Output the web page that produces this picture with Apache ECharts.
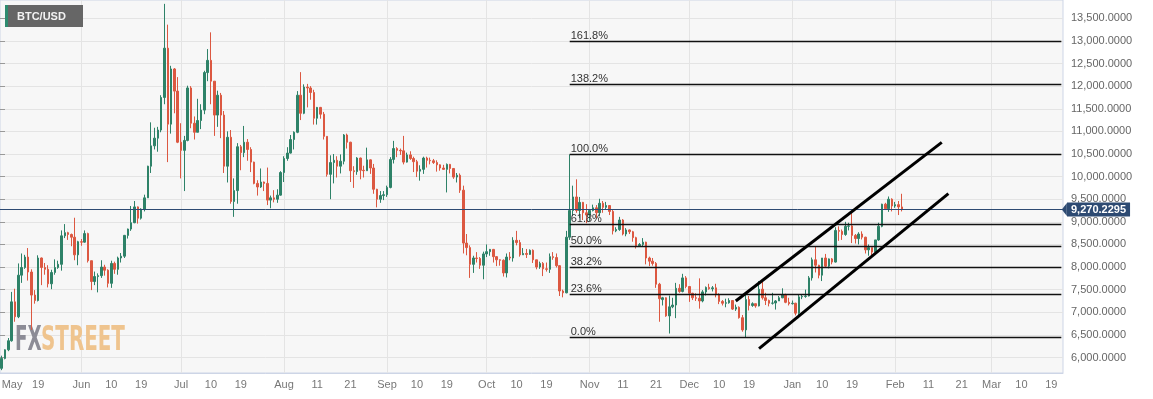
<!DOCTYPE html>
<html>
<head>
<meta charset="utf-8" />
<title>BTC/USD</title>
<script src="https://cdn.jsdelivr.net/npm/echarts@6/dist/echarts.min.js"></script>
<style type="text/css">
html, body { margin: 0; padding: 0; background: #fff; }
#main { width: 1153px; height: 399px; }
</style>
</head>
<body>
<div id="main"></div>
<script type="text/javascript">
// one category per calendar day, first day and how many days the axis holds
var startDay = [2019, 4, 8];
var dayCount = 320;

// daily candles from 2019-05-08, [open, close, low, high]
var ohlc = [
	// May
	[5760, 5980, 5720, 6040], [5980, 6170, 5960, 6180], [6170, 6370, 6140, 6430], [6370, 7230, 6350, 7450],
	[7230, 6900, 6790, 7520], [6900, 7820, 6870, 8080], [7820, 7990, 7650, 8300], [7990, 8220, 7960, 8270],
	[8220, 7890, 7700, 8420], [7890, 7380, 6610, 7950], [7380, 7260, 7190, 7490], [7260, 8200, 7240, 8260],
	[8200, 7990, 7600, 8210], [7990, 7950, 7830, 8090], [7950, 7630, 7550, 8040], [7630, 7880, 7510, 7940],
	[7880, 7990, 7830, 8170], [7990, 8060, 7960, 8140], [8060, 8690, 7920, 8810], [8690, 8760, 8640, 8950],
	[8760, 8720, 8600, 8780], [8720, 8660, 8460, 8740], [8660, 8270, 8150, 9090], [8270, 8560, 8040, 8580],
	// Jun
	[8560, 8550, 8470, 8620], [8550, 8740, 8540, 8810], [8740, 8140, 8100, 8760], [8140, 7680, 7490, 8140],
	[7680, 7790, 7600, 7900], [7790, 7810, 7440, 7860], [7810, 8000, 7760, 8150], [8000, 7930, 7810, 8050],
	[7930, 7640, 7550, 7950], [7640, 8080, 7540, 8140], [8080, 7950, 7850, 8120], [7950, 8200, 7830, 8230],
	[8200, 8240, 8100, 8310], [8240, 8700, 8200, 8710], [8700, 8840, 8630, 8850], [8840, 8980, 8800, 9350],
	[8980, 9330, 8970, 9460], [9330, 9080, 8960, 9340], [9080, 9280, 9050, 9300], [9280, 9530, 9230, 9600],
	[9530, 10230, 9530, 10240], [10230, 10680, 10080, 11200], [10680, 10850, 10600, 11080], [10850, 11030, 10550, 11100],
	[11030, 11750, 10980, 11800], [11750, 12840, 11600, 13820], [12840, 11160, 10320, 13360], [11160, 12380, 10950, 12450],
	[12380, 11890, 11400, 12400], [11890, 10760, 10740, 12200],
	// Jul
	[10760, 10580, 9960, 11180], [10580, 10800, 9680, 10900], [10800, 11960, 10780, 12010], [11960, 11180, 11070, 12000],
	[11180, 10980, 10820, 11330], [10980, 11240, 10980, 11720], [11240, 11470, 11050, 11600], [11470, 12300, 11380, 12340],
	[12300, 12570, 12110, 12820], [12570, 12110, 11600, 13190], [12110, 11360, 10900, 12110], [11360, 11800, 11100, 11900],
	[11800, 11360, 10850, 11850], [11360, 10230, 10080, 11450], [10230, 10870, 9870, 11000], [10870, 9450, 9400, 11030],
	[9450, 9690, 9110, 9960], [9690, 10660, 9400, 10740], [10660, 10530, 10140, 10700], [10530, 10760, 10430, 11120],
	[10760, 10600, 10350, 10830], [10600, 10320, 10100, 10650], [10320, 9850, 9830, 10330], [9850, 9770, 9580, 9920],
	[9770, 9880, 9750, 10180], [9880, 9850, 9680, 9890], [9850, 9480, 9370, 10200], [9480, 9530, 9300, 9580],
	[9530, 9500, 9430, 9700], [9500, 9590, 9420, 9720], [9590, 10090, 9580, 10120],
	// Aug
	[10090, 10400, 9880, 10450], [10400, 10520, 10350, 10650], [10520, 10820, 10510, 10920], [10820, 10980, 10600, 11000],
	[10980, 11800, 10960, 11890], [11800, 11400, 11250, 12310], [11400, 11980, 11380, 12040], [11980, 11960, 11530, 12050],
	[11960, 11860, 11700, 12000], [11860, 11290, 11150, 11920], [11290, 11530, 11150, 11540], [11530, 11380, 11280, 11540],
	[11380, 10890, 10820, 11430], [10890, 10050, 10000, 10890], [10050, 10310, 9500, 10470], [10310, 10360, 9850, 10500],
	[10360, 10230, 9980, 10450], [10230, 10340, 10070, 10490], [10340, 10920, 10270, 10940], [10920, 10760, 10620, 10950],
	[10760, 10130, 9880, 10770], [10130, 10110, 9750, 10230], [10110, 10410, 10040, 10430], [10410, 10140, 9940, 10420],
	[10140, 10130, 9980, 10240], [10130, 10370, 10130, 10640], [10370, 10190, 10060, 10380], [10190, 9720, 9620, 10280],
	[9720, 9500, 9320, 9730], [9500, 9580, 9420, 9680], [9580, 9600, 9480, 9680],
	// Sep
	[9600, 9760, 9550, 9800], [9760, 10380, 9740, 10430], [10380, 10620, 10290, 10790], [10620, 10580, 10430, 10650],
	[10580, 10570, 10480, 10620], [10570, 10320, 10270, 10900], [10320, 10480, 10310, 10530], [10480, 10400, 10370, 10560],
	[10400, 10330, 10100, 10440], [10330, 10120, 9990, 10370], [10120, 10160, 9910, 10250], [10160, 10410, 10060, 10440],
	[10410, 10360, 10200, 10440], [10360, 10350, 10270, 10420], [10350, 10310, 10280, 10390], [10310, 10260, 10110, 10360],
	[10260, 10190, 10130, 10270], [10190, 10160, 10150, 10260], [10160, 10270, 9650, 10290], [10270, 10180, 10070, 10280],
	[10180, 9990, 9950, 10190], [9990, 10030, 9870, 10080], [10030, 9700, 9640, 10070], [9700, 8530, 8300, 9800],
	[8530, 8430, 8260, 8730], [8430, 8060, 7760, 8480], [8060, 8200, 7870, 8250], [8200, 8190, 8100, 8330],
	[8190, 8040, 7960, 8220], [8040, 8290, 7730, 8340],
	// Oct
	[8290, 8340, 8220, 8500], [8340, 8390, 8250, 8400], [8390, 8230, 8100, 8400], [8230, 8160, 8020, 8240],
	[8160, 8150, 8030, 8170], [8150, 7870, 7790, 8170], [7870, 8220, 7770, 8300], [8220, 8200, 8150, 8330],
	[8200, 8590, 8120, 8660], [8590, 8540, 8480, 8800], [8540, 8270, 8230, 8600], [8270, 8300, 8270, 8420],
	[8300, 8280, 8200, 8400], [8280, 8370, 8270, 8390], [8370, 8160, 8090, 8390], [8160, 8000, 7950, 8160],
	[8000, 8080, 7960, 8120], [8080, 7960, 7800, 8110], [7960, 7950, 7900, 8100], [7950, 8230, 7870, 8300],
	[8230, 8210, 8160, 8330], [8210, 8030, 7990, 8300], [8030, 7470, 7360, 8040], [7470, 7430, 7330, 7500],
	[7430, 8660, 7420, 8800], [8660, 9250, 8600, 10490], [9250, 9550, 9130, 9800], [9550, 9250, 9200, 9940],
	[9250, 9430, 9080, 9550], [9430, 9200, 9040, 9440], [9200, 9150, 8970, 9390],
	// Nov
	[9150, 9250, 9020, 9280], [9250, 9310, 9230, 9380], [9310, 9200, 9080, 9370], [9200, 9410, 9120, 9510],
	[9410, 9320, 9200, 9460], [9320, 9360, 9280, 9440], [9360, 9230, 9150, 9370], [9230, 8800, 8720, 9260],
	[8800, 8830, 8770, 8880], [8830, 9040, 8800, 9110], [9040, 8730, 8700, 9060], [8730, 8820, 8680, 8860],
	[8820, 8780, 8730, 8830], [8780, 8650, 8560, 8800], [8650, 8470, 8410, 8670], [8470, 8500, 8450, 8530],
	[8500, 8550, 8450, 8640], [8550, 8200, 8060, 8560], [8200, 8130, 8020, 8230], [8130, 8080, 8030, 8200],
	[8080, 7620, 7540, 8110], [7620, 7300, 6790, 7650], [7280, 7320, 7150, 7340], [7320, 6920, 6900, 7330],
	[6920, 7120, 6530, 7370], [7120, 7160, 7090, 7320], [7160, 7530, 6870, 7650], [7530, 7460, 7430, 7620],
	[7460, 7760, 7440, 7850], [7760, 7570, 7530, 7800],
	// Dec
	[7570, 7420, 7230, 7570], [7420, 7320, 7270, 7430], [7320, 7310, 7250, 7420], [7310, 7250, 7080, 7750],
	[7250, 7450, 7220, 7490], [7450, 7550, 7370, 7570], [7550, 7520, 7500, 7630], [7520, 7540, 7460, 7580],
	[7540, 7390, 7330, 7630], [7390, 7240, 7180, 7420], [7240, 7200, 7150, 7270], [7200, 7210, 7110, 7300],
	[7210, 7260, 7190, 7310], [7260, 7070, 7050, 7270], [7070, 7110, 7030, 7170], [7110, 6880, 6860, 7130],
	[6880, 6610, 6570, 6940], [6610, 7280, 6440, 7420], [7280, 7150, 7040, 7360], [7150, 7190, 7120, 7220],
	[7190, 7140, 7100, 7190], [7140, 7510, 7130, 7690], [7510, 7320, 7280, 7690], [7320, 7260, 7160, 7430],
	[7260, 7200, 7130, 7280], [7200, 7205, 7170, 7430], [7205, 7250, 7060, 7270], [7250, 7320, 7250, 7360],
	[7320, 7390, 7310, 7530], [7390, 7220, 7200, 7410], [7220, 7190, 7150, 7320],
	// Jan
	[7190, 7200, 7170, 7260], [7200, 6980, 6930, 7210], [6980, 7340, 6870, 7400], [7340, 7350, 7290, 7400],
	[7350, 7360, 7320, 7500], [7360, 7760, 7350, 7800], [7760, 8160, 7700, 8210], [8160, 8040, 7880, 8460],
	[8040, 7820, 7750, 8050], [7820, 8200, 7690, 8200], [8200, 8020, 7990, 8290], [8020, 8180, 7970, 8190],
	[8180, 8110, 8060, 8200], [8110, 8810, 8100, 8880], [8810, 8790, 8580, 8900], [8790, 8720, 8600, 8830],
	[8720, 8900, 8690, 9000], [8900, 8910, 8810, 8980], [8910, 8700, 8530, 9190], [8700, 8630, 8520, 8730],
	[8630, 8730, 8500, 8770], [8730, 8660, 8610, 8790], [8660, 8380, 8300, 8670], [8380, 8430, 8250, 8500],
	[8430, 8330, 8260, 8430], [8330, 8600, 8300, 8600], [8600, 8900, 8580, 8980], [8900, 9390, 8880, 9400],
	[9390, 9290, 9260, 9420], [9290, 9500, 9220, 9560], [9500, 9350, 9230, 9520],
	// Feb
	[9350, 9380, 9310, 9440], [9380, 9330, 9150, 9460], [9330, 9270.2295, 9230, 9620]
];

var lastPrice = 9270.2295;

// labelled days on the time axis
var tickLabels = [
	['2019-05-08', 'May'], ['2019-05-19', '19'],
	['2019-06-01', 'Jun'], ['2019-06-10', '10'], ['2019-06-19', '19'],
	['2019-07-01', 'Jul'], ['2019-07-10', '10'], ['2019-07-19', '19'],
	['2019-08-01', 'Aug'], ['2019-08-11', '11'], ['2019-08-21', '21'],
	['2019-09-01', 'Sep'], ['2019-09-10', '10'], ['2019-09-19', '19'],
	['2019-10-01', 'Oct'], ['2019-10-10', '10'], ['2019-10-19', '19'],
	['2019-11-01', 'Nov'], ['2019-11-11', '11'], ['2019-11-21', '21'],
	['2019-12-01', 'Dec'], ['2019-12-10', '10'], ['2019-12-19', '19'],
	['2020-01-01', 'Jan'], ['2020-01-10', '10'], ['2020-01-19', '19'],
	['2020-02-01', 'Feb'], ['2020-02-11', '11'], ['2020-02-21', '21'],
	['2020-03-01', 'Mar'], ['2020-03-10', '10'], ['2020-03-19', '19']
];

// fibonacci levels drawn from the 26 Oct candle
var fibStart = '2019-10-26';
var fibLevels = [
	['161.8%', 12993], ['138.2%', 12037], ['100.0%', 10490], ['61.8%', 8943],
	['50.0%', 8465], ['38.2%', 7987], ['23.6%', 7396], ['0.0%', 6440]
];

// rising channel, [start, end] as [day, price]
var channelLines = [
	[['2019-12-15', 7249], ['2020-02-15', 10758]],
	[['2019-12-22', 6195], ['2020-02-17', 9622]]
];

// price range of the plot area (top edge, bottom edge)
var plotMax = 13905;
var plotMin = 5657;

var dates = [];
var t0 = Date.UTC(startDay[0], startDay[1], startDay[2]);
for (var i = 0; i < dayCount; i++) {
	dates.push(new Date(t0 + i * 86400000).toISOString().slice(0, 10));
}
var lastDay = dates[dates.length - 1];

var labelMap = {};
tickLabels.forEach(function (t) { labelMap[t[0]] = t[1]; });
function isLabelled(idx, val) { return labelMap[val] !== undefined; }

function fmt(v) {
	return Number(v).toLocaleString('en-US', { minimumFractionDigits: 4, maximumFractionDigits: 4 });
}

var green = '#2e8268';
var red = '#dc5841';
var navy = '#2d4a72';

var markLines = [];
markLines.push({
	yAxis: lastPrice,
	lineStyle: { color: navy, width: 1, type: 'solid' },
	label: {
		show: true, position: 'end', distance: 4,
		formatter: fmt(lastPrice),
		backgroundColor: navy, color: '#fff', fontWeight: 'bold', fontSize: 11,
		padding: [2, 4, 1, 4]
	}
});
fibLevels.forEach(function (f) {
	markLines.push([
		{
			coord: [fibStart, f[1]],
			lineStyle: { color: '#111', width: 1.3, type: 'solid' },
			label: {
				show: true, position: 'insideStartTop', distance: [1, 0],
				formatter: f[0], color: '#333', fontSize: 11
			}
		},
		{ coord: [lastDay, f[1]] }
	]);
});
channelLines.forEach(function (c) {
	markLines.push([
		{ coord: c[0], lineStyle: { color: '#000', width: 3, type: 'solid' }, label: { show: false } },
		{ coord: c[1] }
	]);
});

var myChart = echarts.init(document.getElementById('main'));

var option = {
	animation: false,
	backgroundColor: '#fff',
	textStyle: { fontFamily: 'Liberation Sans, Arial, sans-serif' },
	grid: [
		{
			left: 0, right: 90, top: 0, bottom: 26,
			show: true, backgroundColor: '#f7f7f7', borderColor: '#cdd5e6', borderWidth: 1,
			containLabel: false, outerBoundsMode: 'none'
		},
		{
			// same price scale, only for the 500 step labels and grid lines
			left: 0, right: 90, top: 18.3, bottom: 41.5,
			containLabel: false, outerBoundsMode: 'none'
		}
	],
	xAxis: [
		{
			type: 'category',
			gridIndex: 0,
			data: dates,
			boundaryGap: true,
			axisLine: { lineStyle: { color: '#cdd5e6' } },
			axisTick: { interval: isLabelled, alignWithLabel: true, length: 4, lineStyle: { color: '#999' } },
			axisLabel: {
				interval: isLabelled,
				formatter: function (v) { return labelMap[v]; },
				color: '#777', fontSize: 11, margin: 6,
				alignMinLabel: 'left'
			},
			splitLine: {
				show: true,
				alignWithLabel: true,
				interval: function (idx, val) { return val.slice(8) === '01'; },
				lineStyle: { color: '#e4e4e4', width: 1 }
			}
		},
		{ type: 'value', gridIndex: 1, show: false, min: 0, max: 1 }
	],
	yAxis: [
		{ type: 'value', gridIndex: 0, min: plotMin, max: plotMax, show: false, splitLine: { show: false } },
		{
			type: 'value',
			gridIndex: 1,
			position: 'right',
			min: 6000, max: 13500, interval: 500,
			axisLine: { show: false },
			axisTick: { show: true, length: 5, lineStyle: { color: '#999' } },
			axisLabel: { formatter: fmt, color: '#666', fontSize: 11, margin: 8 },
			splitLine: { show: true, lineStyle: { color: '#e4e4e4', width: 1 } }
		}
	],
	graphic: [
		{ type: 'rect', x: 5, y: 5, shape: { width: 78, height: 22 }, style: { fill: '#666' }, z: 10 },
		{ type: 'rect', x: 5, y: 5, shape: { width: 3, height: 22 }, style: { fill: '#2e8b6f' }, z: 11 },
		{
			type: 'text', x: 17, y: 16.5, z: 11,
			style: { text: 'BTC/USD', fill: '#f2f2f2', font: 'bold 11px Liberation Sans, Arial', align: 'left', verticalAlign: 'middle' }
		},
		{
			type: 'text', x: 15, y: 341, scaleX: 0.6, z: 1,
			style: { text: 'FX', fill: '#8c8c96', font: 'bold 34px DejaVu Sans Condensed', align: 'left', verticalAlign: 'middle' }
		},
		{
			type: 'text', x: 41, y: 341, scaleX: 0.65, z: 1,
			style: { text: 'STREET', fill: '#efc48e', font: 'bold 34px DejaVu Sans Condensed', align: 'left', verticalAlign: 'middle' }
		}
	],
	series: [
		{
			name: 'BTC/USD',
			type: 'candlestick',
			xAxisIndex: 0,
			yAxisIndex: 0,
			data: ohlc,
			barWidth: 2,
			itemStyle: {
				color: green, color0: red,
				borderColor: green, borderColor0: red,
				borderWidth: 1
			},
			markLine: {
				silent: true,
				symbol: ['none', 'none'],
				data: markLines
			},
			markPoint: {
				silent: true,
				symbol: 'triangle',
				symbolSize: [13, 5],
				symbolRotate: 90,
				symbolOffset: [3, 0],
				itemStyle: { color: navy },
				label: { show: false },
				data: [{ coord: [lastDay, lastPrice] }]
			}
		}
	]
};

myChart.setOption(option);
</script>
</body>
</html>
